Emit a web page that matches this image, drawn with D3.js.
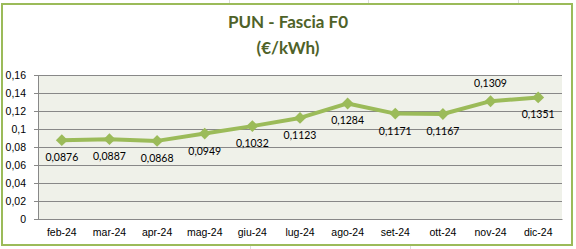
<!DOCTYPE html>
<html>
<head>
<meta charset="utf-8">
<script src="https://cdn.jsdelivr.net/npm/d3@7"></script>
<style>
  body { margin: 0; background: #fff; }
  svg { display: block; font-family: Lato, "Open Sans", sans-serif; }
</style>
</head>
<body>
<svg id="chart" width="576" height="249"></svg>
<script>
// PUN monthly values, fascia F0
const months = ["feb-24", "mar-24", "apr-24", "mag-24", "giu-24", "lug-24",
                "ago-24", "set-24", "ott-24", "nov-24", "dic-24"];
const pun = [0.0876, 0.0887, 0.0868, 0.0949, 0.1032, 0.1123,
             0.1284, 0.1171, 0.1167, 0.1309, 0.1351];
const labelSide = ["below", "below", "below", "below", "below", "below",
                   "below", "below", "below", "above", "below"];
const yTicks = [0, 0.02, 0.04, 0.06, 0.08, 0.1, 0.12, 0.14, 0.16];

const green = "#9bbb59";
const svg = d3.select("#chart");

// faint sheet grid behind the chart
const sheet = svg.append("g").attr("stroke", "#dcdcdc").attr("stroke-width", 1);
[229, 368, 518].forEach(x => sheet.append("line").attr("x1", x + .5).attr("x2", x + .5).attr("y1", 0).attr("y2", 4));
[250, 410].forEach(x => sheet.append("line").attr("x1", x + .5).attr("x2", x + .5).attr("y1", 245).attr("y2", 249));

// chart frame
svg.append("rect")
  .attr("x", 2).attr("y", 4).attr("width", 570).attr("height", 241)
  .attr("fill", "#fff").attr("stroke", green).attr("stroke-width", 2);

svg.append("text").attr("x", 288).attr("y", 28)
  .attr("text-anchor", "middle").attr("font-size", 17).attr("font-weight", "bold")
  .attr("fill", "#4f6228").text("PUN - Fascia F0");
svg.append("text").attr("x", 288).attr("y", 54)
  .attr("text-anchor", "middle").attr("font-size", 17).attr("font-weight", "bold")
  .attr("fill", "#4f6228").text("(€/kWh)");

const plotLeft = 38, plotRight = 562, plotTop = 75, plotBottom = 219;

const x = d3.scaleBand().domain(months).range([plotLeft, plotRight]);
const y = d3.scaleLinear().domain([0, 0.16]).range([plotBottom, plotTop]);
const fmt = v => String(v).replace(".", ",");

svg.append("rect")
  .attr("x", plotLeft).attr("y", plotTop)
  .attr("width", plotRight - plotLeft).attr("height", plotBottom - plotTop)
  .attr("fill", "#eff1e9");

// y axis with gridlines
const yAxis = svg.append("g")
  .attr("transform", `translate(${plotLeft},0)`)
  .call(d3.axisLeft(y).tickValues(yTicks).tickFormat(fmt).tickSize(4).tickPadding(8));
yAxis.selectAll(".tick line").clone()
  .attr("x2", plotRight - plotLeft).attr("stroke", "#888");
yAxis.selectAll(".tick line").attr("stroke", "#888");
yAxis.select(".domain").attr("stroke", "#888");
yAxis.selectAll("text").attr("font-size", 10.5).attr("fill", "#000");

const xAxis = svg.append("g")
  .attr("transform", `translate(0,${plotBottom})`)
  .call(d3.axisBottom(x).tickSize(0).tickPadding(10));
xAxis.select(".domain").attr("stroke", "#888");
xAxis.selectAll("text").attr("font-size", 10.5).attr("fill", "#000");

const cx = (d, i) => x(months[i]) + x.bandwidth() / 2;

svg.append("path")
  .datum(pun)
  .attr("fill", "none").attr("stroke", green).attr("stroke-width", 4)
  .attr("stroke-linejoin", "round")
  .attr("d", d3.line().x(cx).y(d => y(d)));

svg.selectAll(".marker").data(pun).enter()
  .append("path")
  .attr("class", "marker")
  .attr("d", d3.symbol(d3.symbolDiamond2, 90))
  .attr("transform", (d, i) => `translate(${cx(d, i)},${y(d)})`)
  .attr("fill", green);

svg.selectAll(".lbl").data(pun).enter()
  .append("text")
  .attr("class", "lbl")
  .attr("x", cx)
  .attr("y", (d, i) => y(d) + (labelSide[i] === "above" ? -14 : 21))
  .attr("text-anchor", "middle").attr("font-size", 10.5).attr("fill", "#000")
  .text(fmt);
</script>
</body>
</html>
